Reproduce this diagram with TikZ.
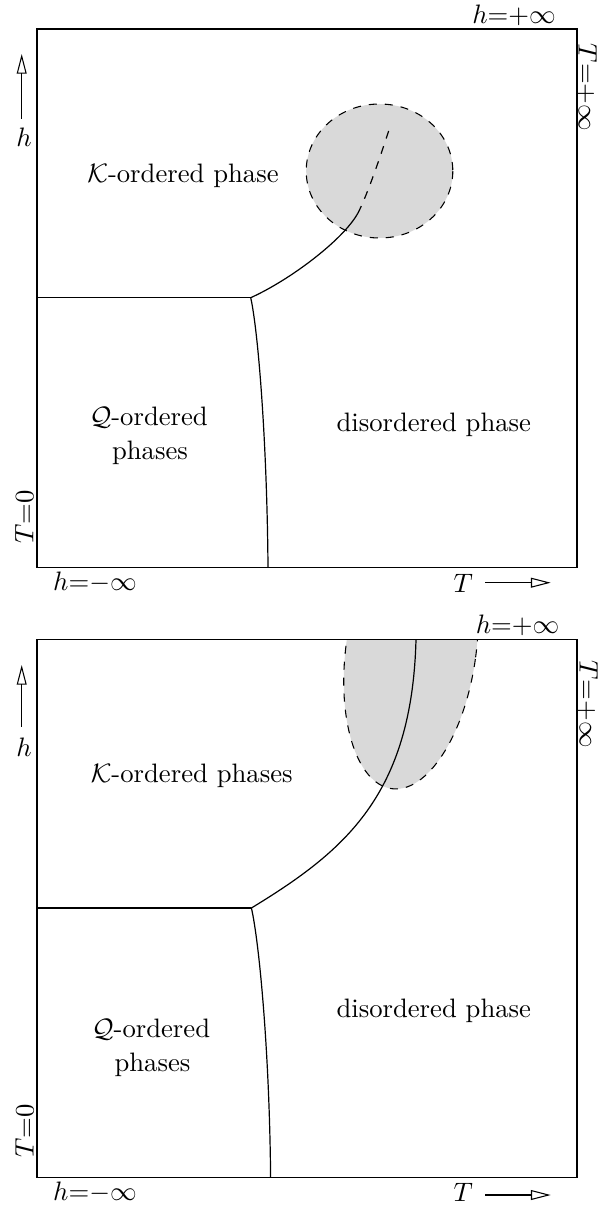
\documentclass[tikz,border=0pt]{standalone}
\usetikzlibrary{arrows.meta}
\begin{document}
\begin{tikzpicture}[x=0.375pt,y=-0.375pt,
  frame/.style={line width=0.4pt},
  bnd/.style={line width=0.45pt},
  axarrow/.style={line width=0.4pt,-{Triangle[open,length=7.4pt,width=3.7pt]}},
  lbl/.style={inner sep=0pt,anchor=base},
  region/.style={fill=black!15},
  ]
\useasboundingbox (0,0) rectangle (599,1207);
% ================= top panel =================
\coordinate (TL1) at (37,29);
\coordinate (BR1) at (577,567.5);
\begin{scope}
  \clip (TL1) rectangle (BR1);
  \fill[region] (379.5,171) ellipse [x radius=73.3, y radius=67];
  \draw[frame,dashed] (379.5,171) ellipse [x radius=73.3, y radius=67];
\end{scope}
\draw[frame] (TL1) rectangle (BR1);
\coordinate (L1) at (37,297.7);
\coordinate (J1) at (250.7,297.7);
\coordinate (M1) at (357.8,213.3);
\coordinate (E1) at (389.2,129.3);
\coordinate (B1) at (268,567.5);
\draw[bnd] (L1) -- (J1);
\draw[bnd] (J1) .. controls (290,280) and (343,240) .. (M1);
\draw[bnd,dashed] (M1) .. controls (367,196) and (381.5,153.1) .. (E1);
\draw[bnd] (J1) .. controls (258,330) and (267,440) .. (B1);
% axis arrows and labels
\coordinate (ht1) at (21.7,119);
\coordinate (hh1) at (21.7,54);
\draw[axarrow] (ht1) -- (hh1);
\node[lbl] (hl1) at (24,146.7) {$h$};
\coordinate (tt1) at (485,582.7);
\coordinate (th1) at (550.7,582.7);
\draw[axarrow] (tt1) -- (th1);
\node[lbl] (Tl1) at (463.3,592.7) {$T$};
\node[lbl] (hp1) at (514,23.3) {$h{=}{+}\infty$};
\node[lbl] (hm1) at (95,590) {$h{=}{-}\infty$};
\node[lbl,anchor=base west,rotate=-90] (Tp1) at (578.5,43.3) {$T{=}{+}\infty$};
\node[lbl,anchor=base west,rotate=90] (T01) at (33.3,544) {$T{=}0$};
% phase labels
\node[lbl] (K1) at (183,182.7) {$\mathcal{K}$-ordered phase};
\node[lbl] (Qa1) at (148.7,426) {$\mathcal{Q}$-ordered};
\node[lbl] (Qb1) at (150,460) {phases};
\node[lbl] (D1) at (433.8,431.7) {disordered phase};
% ================= bottom panel =================
\coordinate (TL2) at (37,639.3);
\coordinate (BR2) at (577,1177.7);
\begin{scope}
  \clip (TL2) rectangle (BR2);
  \fill[region,rotate around={-8:(411,650)}] (411,650) ellipse [x radius=65, y radius=140];
  \draw[frame,dashed,rotate around={-8:(411,650)}] (411,650) ellipse [x radius=65, y radius=140];
\end{scope}
\draw[frame] (TL2) rectangle (BR2);
\coordinate (L2) at (37,908);
\coordinate (J2) at (251.4,908);
\coordinate (E2) at (416,639.3);
\coordinate (B2) at (270.6,1177.7);
\draw[bnd] (L2) -- (J2);
\draw[bnd] (J2) .. controls (345,851) and (412,795) .. (E2);
\draw[bnd] (J2) .. controls (259,941) and (269.5,1050) .. (B2);
% axis arrows and labels
\coordinate (ht2) at (21.7,726.7);
\coordinate (hh2) at (21.7,665);
\draw[axarrow] (ht2) -- (hh2);
\node[lbl] (hl2) at (24,756.7) {$h$};
\coordinate (tt2) at (485,1195);
\coordinate (th2) at (550.7,1195);
\draw[axarrow] (tt2) -- (th2);
\node[lbl] (Tl2) at (463.3,1201.7) {$T$};
\node[lbl] (hp2) at (517.5,633) {$h{=}{+}\infty$};
\node[lbl] (hm2) at (95,1200) {$h{=}{-}\infty$};
\node[lbl,anchor=base west,rotate=-90] (Tp2) at (579.5,660) {$T{=}{+}\infty$};
\node[lbl,anchor=base west,rotate=90] (T02) at (33.5,1158.3) {$T{=}0$};
% phase labels
\node[lbl] (K2) at (191.7,782.7) {$\mathcal{K}$-ordered phases};
\node[lbl] (Qa2) at (151,1037.3) {$\mathcal{Q}$-ordered};
\node[lbl] (Qb2) at (152.5,1071.7) {phases};
\node[lbl] (D2) at (433.8,1017.3) {disordered phase};
\end{tikzpicture}
\end{document}
